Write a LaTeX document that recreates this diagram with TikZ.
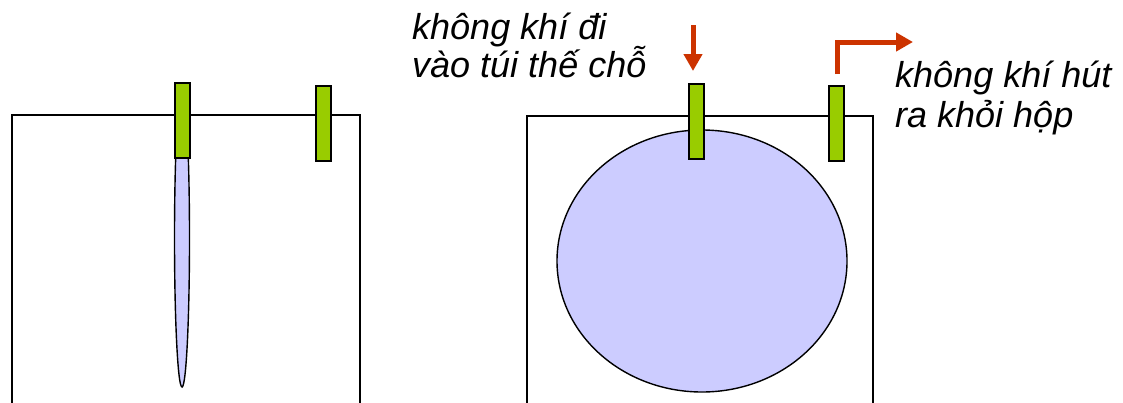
\documentclass[tikz,border=0pt]{standalone}
\usepackage{fontspec}
\setmainfont{Liberation Sans}
\usetikzlibrary{arrows.meta,shapes.geometric}
\definecolor{tubegreen}{RGB}{153,204,0}
\definecolor{baglilac}{RGB}{204,204,255}
\definecolor{airred}{RGB}{204,51,0}
\tikzset{
  box/.style={draw=black, line width=1.5pt},
  tube/.style={draw=black, line width=2pt, fill=tubegreen, rectangle, inner sep=0pt, minimum width=15pt, minimum height=75pt},
  bag/.style={draw=black, line width=1.4pt, fill=baglilac, ellipse, inner sep=0pt},
  lbl/.style={anchor=base west, inner sep=0pt, font=\fontsize{36}{38}\selectfont\itshape},
  airflow/.style={draw=airred, line width=5pt, miter limit=10, -{Triangle[length=17pt 0 0, width=18pt 0 0]}}
}
\begin{document}
\begin{tikzpicture}[x=1pt, y=-1pt]
\fill[white] (0,0) rectangle (1123,402);
\clip (0,0) rectangle (1123,402);
\useasboundingbox (0,0) rectangle (1123,402);
% boxes
\draw[box] (12,430) -- (12,115) -- (360,115) -- (360,430);
\draw[box] (527,430) -- (527,116) -- (873,116) -- (873,430);
% bags
\node[bag, minimum width=15pt, minimum height=298pt] (bagL) at (182,238) {};
\node[bag, minimum width=290pt, minimum height=262pt] (bagR) at (702,261) {};
% tubes
\node[tube] (t1) at (182,120) {};
\node[tube] (t2) at (323,123) {};
\node[tube] (t3) at (696,121) {};
\node[tube] (t4) at (836,123.5) {};
% arrows
\coordinate (inTop) at (693,25);
\coordinate (inTip) at (693,71);
\draw[airflow] (inTop) -- (inTip);
\coordinate (outStart) at (837,74);
\coordinate (outTip) at (913,42);
\draw[airflow] (outStart) |- (outTip);
% labels
\node[lbl] (l1a) at (412,39) {không khí đi};
\node[lbl] (l1b) at (412,77) {vào túi thế chỗ};
\node[lbl] (l2a) at (895,87) {không khí hút};
\node[lbl] (l2b) at (895,127) {ra khỏi hộp};
\end{tikzpicture}
\end{document}
